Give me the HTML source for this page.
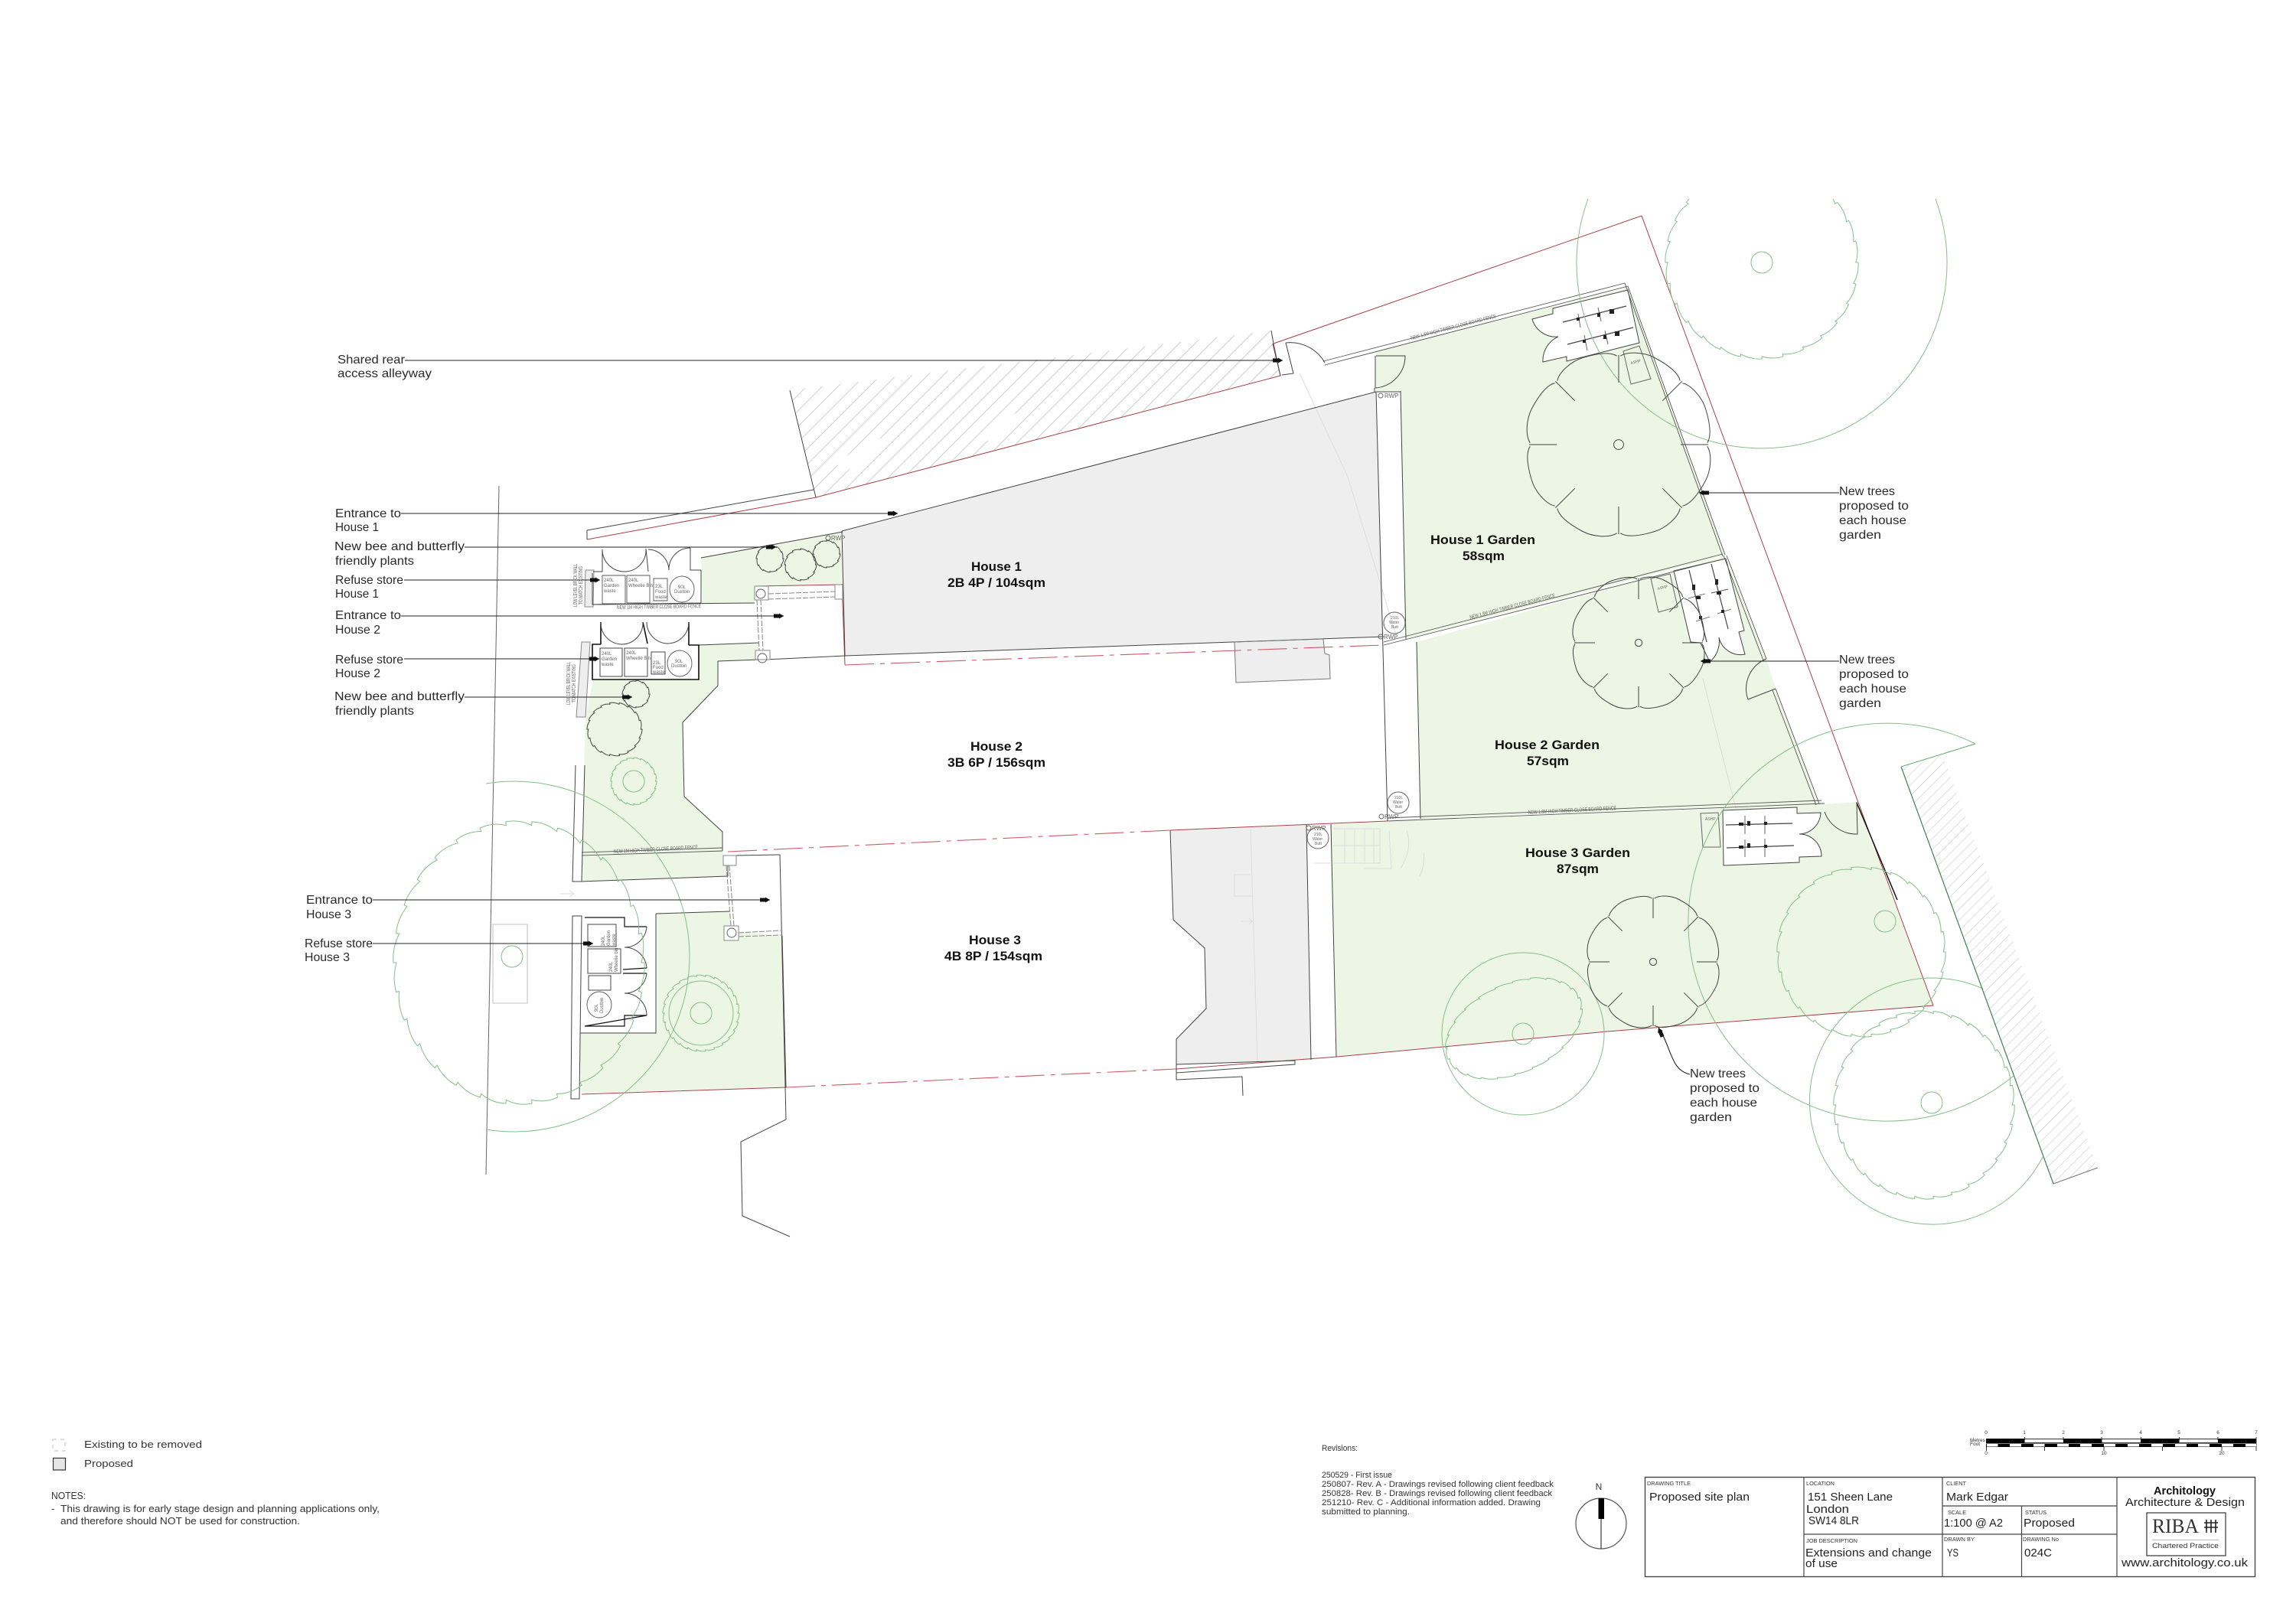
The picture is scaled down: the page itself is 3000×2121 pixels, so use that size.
<!DOCTYPE html>
<html><head><meta charset="utf-8"><title>Proposed site plan</title>
<style>
html,body{margin:0;padding:0;background:#fff}
svg{display:block;font-family:"Liberation Sans",sans-serif}
.k{fill:none;stroke:#444;stroke-width:1}
.kt{fill:none;stroke:#111;stroke-width:1.6}
.f{fill:none;stroke:#555;stroke-width:.9}
.w{fill:#fff;stroke:#444;stroke-width:1}
.gy{fill:none;stroke:#ddd;stroke-width:1}
.r{fill:none;stroke:#a8404a;stroke-width:1}
.rd{fill:none;stroke:#cf5a66;stroke-width:1.1;stroke-dasharray:38 8 6 8}
.g{fill:none;stroke:#84bf88;stroke-width:1}
.ld{stroke:#222;stroke-width:1.1;fill:none;marker-end:url(#a)}
.bk{stroke:#444;stroke-width:1.2;fill:none}
.mk{fill:#222}
.t{font-size:16px;fill:#2a2a2a}
.b{font-size:17px;font-weight:bold;fill:#111}
.s{font-size:7px;fill:#666}
.n{font-size:13px;fill:#333}
.v{font-size:11px;fill:#333}
.tb{font-size:7.5px;fill:#333}
.tv{font-size:15px;fill:#222}
.sc{font-size:6.5px;fill:#333}
</style></head><body>
<svg xmlns="http://www.w3.org/2000/svg" width="3000" height="2121" viewBox="0 0 3000 2121">
<defs>
<marker id="a" markerWidth="14" markerHeight="8" refX="13" refY="4" orient="auto" markerUnits="userSpaceOnUse"><path d="M0 1.5H7V0.5L13 4 7 7.5V6.5H0z" fill="#111"/></marker>
<pattern id="h1" width="14.5" height="14.5" patternUnits="userSpaceOnUse" patternTransform="rotate(-45)"><line x1="0" y1="0" x2="14.5" y2="0" stroke="#bbb" stroke-width="1.4"/></pattern>
<pattern id="h2" width="10" height="10" patternUnits="userSpaceOnUse" patternTransform="rotate(-45)"><line x1="0" y1="0" x2="10" y2="0" stroke="#c8c8c8" stroke-width="1.2"/></pattern>
<clipPath id="c1"><rect x="1900" y="260" width="800" height="400"/></clipPath>
</defs>

<!-- fills -->
<polygon fill="#eeeeee" points="1100,694 1798,512 1808,832 1104,857"/>
<polygon fill="#eeeeee" points="1613,839 1729,835 1731,854 1737,856 1738,887 1615,892"/>
<polygon fill="#eeeeee" points="1529,1085 1707,1078 1713,1385 1537,1391 1537,1358 1576,1318 1574,1239 1533,1202"/>
<polygon fill="#edf6e4" points="1798,460 2127,376 2254,726 1837,835 1830,511 1798,511"/>
<polygon fill="#edf6e4" points="1851,839 2254,727 2308,861 2320,900 2377,1050 1856,1070"/>
<polygon fill="#edf6e4" points="1739,1077 2384,1051 2426,1048 2526,1314 2100,1348 1747,1381"/>
<polygon fill="#edf6e4" points="916,729 1101,695 1101,764 986,766 986,788 918,790"/>
<polygon fill="#edf6e4" points="775,888 913,888 913,843 992,840 992,862 938,864 938,896 892,944 893,1000 894,1041 944,1087 944,1112 951,1145 760,1152 763,1000 765,937"/>
<polygon fill="#edf6e4" points="857,1194 954,1191 954,1216 1022,1223 1027,1421 760,1428 757,1350 857,1350"/>
<polygon fill="url(#h1)" points="1032,510 1661,432 1673,491 1066,650"/>
<path d="M1098 612L1150 574M1290 575L1325 540" stroke="#fff" stroke-width="16" fill="none"/>
<polygon fill="url(#h2)" points="2484,1002 2537,984 2741,1526 2683,1547"/>
<polygon fill="#eee" stroke="#888" stroke-width="1" points="760,839 771,839 765,937 753,937"/>
<polygon fill="#eee" stroke="#888" stroke-width="1" points="765,745 776,745 775,793 764,793"/>

<!-- sheds white -->
<path class="w" d="M2029 403L2127 379 2142 448 2047 472 2047 466 2016 473A34 34 0 0 1 2036 440A32 32 0 0 1 2002 417L2029 410Z"/>
<path class="w" d="M2187 746L2255 730 2279 824 2272 826 2280 855A29 29 0 0 1 2246 833A35 35 0 0 1 2234 865L2222 840 2209 839Z"/>
<path class="w" d="M2251 1059L2348 1055 2348 1063 2379 1062A29 29 0 0 1 2351 1090A29 29 0 0 1 2380 1119L2351 1120 2351 1127 2252 1131Z"/>

<!-- ghost lines -->
<path class="gy" d="M1698 488L1761 623 1824 830M2225 887L2268 1056M1634 1083L1643 1387M1634 1143H1613V1171H1636M1742 1083H1803V1128H1742M1742 1105H1803M1757 1083V1128M1770 1083V1128M1783 1083V1128M1795 1083V1128M1717 1128H1739M1815 1085L1818 1135H1782M1838 1085Q1846 1110 1830 1135M1860 1115Q1862 1130 1855 1145M1622 1204H1636L1632 1200M1636 1204L1632 1208M732 1168H750M744 1164L750 1168 744 1172"/>
<rect x="644" y="1208" width="45" height="103" fill="none" stroke="#ccc" stroke-width="1.2"/>

<!-- site lines -->
<path class="r" d="M767 705L1066 650 1673 491 1664 449 2145 282 2526 1314 2100 1348 1747 1381 1537 1397M1027 1421L760 1430"/>
<path class="rd" d="M1104 869L1808 843M951 1113L1529 1085M1027 1421L1537 1397"/>
<path class="r" d="M1100 763L1104 869M1529 1085L1813 1073M986 766L1101 764"/>
<path d="M2426 1049L2479 1176" fill="none" stroke="#111" stroke-width="1.5"/>
<path class="k" d="M1100 694L1798 512M1101 695L916 729M1100 694L1104 857 1808 832M1000 862L1104 857M938 864L992 862 992 850M1798 512L1813 1073M1830 511L1837 835M1851 839L1856 1070M1798 512H1830M1739 1077L1746 1381M1707 1078L1713 1385"/>
<path class="k" d="M767 693L1063 640M767 693V705M1032 510L1066 650M1661 432L1664 449"/>
<path class="k" d="M1529 1085L1533 1202 1574 1239 1576 1318 1537 1358 1537 1402 1692 1391V1386L1537 1391M1537 1402V1411L1623 1407 1624 1432"/>
<path d="M1613 839L1729 835 1731 854 1737 856 1738 887 1615 892z" fill="none" stroke="#777"/>
<path d="M652 635L635 1535" fill="none" stroke="#666" stroke-width="1"/>
<path class="k" d="M962 1118L1019 1117 1027 1463 968 1492 970 1589 1032 1616"/>
<path class="k" d="M992 840L913 843M938 864V896L892 944 893 1000 894 1041 944 1087V1112M760 1152L951 1145 951 1131"/>
<path class="k" d="M857 1194L954 1191M857 1194V1350H757M1022 1223L1027 1421"/>
<polygon class="w" points="748,1197 760,1197 757,1436 746,1436"/>
<path class="k" d="M752 1000L748 1152 760 1152 764 1000"/>

<!-- fences -->
<path class="f" d="M1731 477L2127 374 2254 725M1729 472L2123 370 2251 727M1808 843L2254 730M1808 839L2251 724M2256 726L2308 861M2252 726L2304 863M2320 900L2377 1050M2316 902L2373 1052M1813 1073L2384 1050M1813 1069L2380 1046M760 1118L944 1112M760 1114L944 1108"/>
<path class="k" d="M1680 448A52 52 0 0 1 1731 474M1680 448L1690 488 1675 490M1663 449L1673 491M1798 465H1836A42 42 0 0 1 1797 507V465M1796 507V512M2308 861A42 42 0 0 0 2284 914L2320 900M2384 1061A44 44 0 0 0 2427 1090L2426 1048"/>
<polygon fill="none" stroke="#666" points="2121,459 2142,452 2157,495 2131,502"/>
<polygon fill="none" stroke="#666" points="2157,756 2182,750 2192,793 2167,800"/>
<polygon fill="none" stroke="#666" points="2222,1063 2245,1062 2248,1107 2225,1107"/>

<!-- bikes -->
<path class="bk" d="M2042 421L2125 400M2048 450L2134 428M2207 745L2230 839M2236 737L2258 822M2255 1078L2342 1076M2256 1108L2344 1105"/>
<path class="f" d="M2062 410L2065 428M2088 402L2092 420M2070 438L2074 458M2097 432L2101 450M2206 782L2228 776M2216 812L2234 806M2236 775L2258 770M2244 802L2262 796M2280 1066V1090M2306 1066V1090M2280 1097V1120M2306 1096V1120"/>
<path class="mk" d="M2060 415h4v4h-4zM2087 409h4v5h-4zM2103 404h6v6h-6zM2068 444h4v4h-4zM2095 438h4v5h-4zM2110 433h6v6h-6zM2211 764h4v7h-4zM2241 757h4v7h-4zM2216 779h6v4h-6zM2243 773h6v4h-6zM2220 805h4v4h-4zM2249 797h4v4h-4zM2272 1075h6v4h-6zM2283 1073h4v6h-4zM2305 1074h4v4h-4zM2272 1105h6v4h-6zM2283 1102h4v6h-4zM2305 1104h4v4h-4z"/>

<!-- front refuse stores -->
<path class="k" d="M774 749V790L916 788V745M787 718V747H775M902 716V745H916"/>
<path class="k" d="M787 718A29 29 0 0 0 816 747A28 28 0 0 0 844 718M847 718A28 28 0 0 1 874 745A28 28 0 0 1 902 716M844 717L847 747M774 790L986 788"/>
<path class="f" d="M787 752H817V789H787zM819 752H849V788H819zM854 756H872V785H854z"/>
<ellipse class="f" cx="891" cy="770" rx="16" ry="17"/>
<path class="kt" d="M785 842H774V888H913V843H900M785 813V842M900 813V843M840 813L846 841"/>
<path class="k" d="M785 813A28 28 0 0 0 813 842A28 28 0 0 0 840 813M845 813A28 28 0 0 0 872 841A28 28 0 0 0 900 813"/>
<path class="k" d="M784 847H813V884H784zM816 847H846V884H816z"/>
<path class="k" d="M851 852H869V881H851z"/>
<ellipse class="f" cx="888" cy="867" rx="16" ry="17"/>
<path class="kt" d="M764 1199H816V1211H845M845 1327H816V1341H764z M845 1265L814 1267M845 1272L814 1272" style="stroke-width:1.2"/>
<path class="k" d="M845 1211A29 29 0 0 1 816 1238A29 29 0 0 1 845 1265M845 1272A29 29 0 0 1 816 1298A29 29 0 0 1 845 1327"/>
<path class="k" d="M768 1208H805V1237H768zM768 1240H811V1272H768zM769 1275H798V1294H769z"/>
<ellipse class="f" cx="783" cy="1313" rx="16" ry="17"/>

<!-- gates -->
<rect class="w" x="986" y="766" width="18" height="18" style="stroke:#888"/><circle class="f" cx="994" cy="776" r="6"/>
<rect class="w" x="987" y="850" width="19" height="12" style="stroke:#888"/><circle class="f" cx="996" cy="860" r="6"/>
<rect class="w" x="1091" y="764" width="10" height="19" style="stroke:#888"/>
<rect class="w" x="945" y="1118" width="17" height="13" style="stroke:#888"/>
<rect class="w" x="946" y="1210" width="19" height="19" style="stroke:#888"/><circle class="f" cx="956" cy="1219" r="6"/>
<path d="M1004 776L1091 773M1004 783L1091 780M989 784L992 850M994 784L997 850M949 1131L955 1210M953 1131L959 1210M965 1219L1020 1216M965 1224L1020 1222" fill="none" stroke="#888" stroke-dasharray="7 2"/>

<!-- water butts -->
<g fill="none" stroke="#666"><circle cx="1822" cy="814" r="14"/><circle cx="1827" cy="1049" r="14"/><circle cx="1722" cy="1095" r="14"/><circle cx="1804" cy="832" r="3"/><circle cx="1805" cy="1067" r="3"/><circle cx="1710" cy="1082" r="3"/><circle cx="1804" cy="517" r="3"/><circle cx="1082" cy="703" r="3"/></g>

<!-- trees -->
<path class="g" d="M2075 260A242 242 0 1 0 2529 260M2581 972A260 260 0 1 0 2631 1406M2591 1292A161 161 0 1 0 2669 1512M635 1024A229 229 0 1 1 635 1476"/>
<circle class="g" cx="2302" cy="343" r="14"/><circle class="g" cx="2463" cy="1204" r="14"/><circle class="g" cx="2524" cy="1441" r="14"/><circle class="g" cx="669" cy="1250" r="14"/>
<circle class="g" cx="1990" cy="1351" r="106"/><circle class="g" cx="1990" cy="1351" r="14"/>
<circle class="g" cx="828" cy="1021" r="14"/><circle class="g" cx="916" cy="1324" r="14"/><circle class="g" cx="916" cy="1324" r="42"/>
<g id="tg" class="g"></g>
<g id="tk" class="k"></g>
<path d="M2484 1002L2683 1547" fill="none" stroke="#3f8050" stroke-width="1.2"/>
<path d="M2484 1002L2581 972" fill="none" stroke="#6aa873" stroke-width="1"/>
<path d="M2683 1547L2741 1526" fill="none" stroke="#777" stroke-width="1"/>

<!-- leaders -->
<path class="ld" d="M529 471H1676"/>
<path class="ld" d="M524 671H1173"/>
<path class="ld" d="M607 715H1014"/>
<path class="ld" d="M528 758H784"/>
<path class="ld" d="M524 805H1024"/>
<path class="ld" d="M528 861H783"/>
<path class="ld" d="M607 911H826"/>
<path class="ld" d="M487 1176H1006"/>
<path class="ld" d="M487 1233H775"/>
<path class="ld" d="M2403 644H2220"/>
<path class="ld" d="M2403 864H2222"/>
<path class="ld" d="M2208 1404C2190 1400 2186 1385 2178 1365S2170 1350 2167 1343"/>

<!-- callout labels -->
<text class="t" x="441" y="475" textLength="88" lengthAdjust="spacingAndGlyphs">Shared rear</text>
<text class="t" x="441" y="493" textLength="123" lengthAdjust="spacingAndGlyphs">access alleyway</text>
<text class="t" x="438" y="676" textLength="86" lengthAdjust="spacingAndGlyphs">Entrance to</text>
<text class="t" x="438" y="694" textLength="57" lengthAdjust="spacingAndGlyphs">House 1</text>
<text class="t" x="437" y="719" textLength="170" lengthAdjust="spacingAndGlyphs">New bee and butterfly</text>
<text class="t" x="438" y="738" textLength="103" lengthAdjust="spacingAndGlyphs">friendly plants</text>
<text class="t" x="438" y="763" textLength="89" lengthAdjust="spacingAndGlyphs">Refuse store</text>
<text class="t" x="438" y="781" textLength="57" lengthAdjust="spacingAndGlyphs">House 1</text>
<text class="t" x="438" y="809" textLength="86" lengthAdjust="spacingAndGlyphs">Entrance to</text>
<text class="t" x="438" y="828" textLength="59" lengthAdjust="spacingAndGlyphs">House 2</text>
<text class="t" x="438" y="867" textLength="89" lengthAdjust="spacingAndGlyphs">Refuse store</text>
<text class="t" x="438" y="885" textLength="59" lengthAdjust="spacingAndGlyphs">House 2</text>
<text class="t" x="437" y="915" textLength="170" lengthAdjust="spacingAndGlyphs">New bee and butterfly</text>
<text class="t" x="438" y="934" textLength="103" lengthAdjust="spacingAndGlyphs">friendly plants</text>
<text class="t" x="400" y="1181" textLength="87" lengthAdjust="spacingAndGlyphs">Entrance to</text>
<text class="t" x="400" y="1200" textLength="59" lengthAdjust="spacingAndGlyphs">House 3</text>
<text class="t" x="398" y="1238" textLength="89" lengthAdjust="spacingAndGlyphs">Refuse store</text>
<text class="t" x="398" y="1256" textLength="59" lengthAdjust="spacingAndGlyphs">House 3</text>
<text class="t" x="2403" y="647" textLength="73" lengthAdjust="spacingAndGlyphs">New trees</text>
<text class="t" x="2403" y="666" textLength="91" lengthAdjust="spacingAndGlyphs">proposed to</text>
<text class="t" x="2403" y="685" textLength="88" lengthAdjust="spacingAndGlyphs">each house</text>
<text class="t" x="2403" y="704" textLength="55" lengthAdjust="spacingAndGlyphs">garden</text>
<text class="t" x="2403" y="867" textLength="73" lengthAdjust="spacingAndGlyphs">New trees</text>
<text class="t" x="2403" y="886" textLength="91" lengthAdjust="spacingAndGlyphs">proposed to</text>
<text class="t" x="2403" y="905" textLength="88" lengthAdjust="spacingAndGlyphs">each house</text>
<text class="t" x="2403" y="924" textLength="55" lengthAdjust="spacingAndGlyphs">garden</text>
<text class="t" x="2208" y="1408" textLength="73" lengthAdjust="spacingAndGlyphs">New trees</text>
<text class="t" x="2208" y="1427" textLength="91" lengthAdjust="spacingAndGlyphs">proposed to</text>
<text class="t" x="2208" y="1446" textLength="88" lengthAdjust="spacingAndGlyphs">each house</text>
<text class="t" x="2208" y="1465" textLength="55" lengthAdjust="spacingAndGlyphs">garden</text>

<text class="b" x="1269" y="746" textLength="66" lengthAdjust="spacingAndGlyphs">House 1</text>
<text class="b" x="1238" y="767" textLength="128" lengthAdjust="spacingAndGlyphs">2B 4P / 104sqm</text>
<text class="b" x="1268" y="981" textLength="68" lengthAdjust="spacingAndGlyphs">House 2</text>
<text class="b" x="1238" y="1002" textLength="128" lengthAdjust="spacingAndGlyphs">3B 6P / 156sqm</text>
<text class="b" x="1266" y="1234" textLength="68" lengthAdjust="spacingAndGlyphs">House 3</text>
<text class="b" x="1234" y="1255" textLength="128" lengthAdjust="spacingAndGlyphs">4B 8P / 154sqm</text>
<text class="b" x="1869" y="711" textLength="137" lengthAdjust="spacingAndGlyphs">House 1 Garden</text>
<text class="b" x="1911" y="732" textLength="55" lengthAdjust="spacingAndGlyphs">58sqm</text>
<text class="b" x="1953" y="979" textLength="137" lengthAdjust="spacingAndGlyphs">House 2 Garden</text>
<text class="b" x="1995" y="1000" textLength="55" lengthAdjust="spacingAndGlyphs">57sqm</text>
<text class="b" x="1993" y="1120" textLength="137" lengthAdjust="spacingAndGlyphs">House 3 Garden</text>
<text class="b" x="2034" y="1141" textLength="55" lengthAdjust="spacingAndGlyphs">87sqm</text>

<!-- small plan labels -->
<text class="s" transform="translate(1844 444) rotate(-14.6)" textLength="115" lengthAdjust="spacingAndGlyphs">NEW 1.8M HIGH TIMBER CLOSE BOARD FENCE</text>
<text class="s" transform="translate(1921 809) rotate(-14.6)" textLength="115" lengthAdjust="spacingAndGlyphs">NEW 1.8M HIGH TIMBER CLOSE BOARD FENCE</text>
<text class="s" transform="translate(1997 1064) rotate(-3)" textLength="115" lengthAdjust="spacingAndGlyphs">NEW 1.8M HIGH TIMBER CLOSE BOARD FENCE</text>
<text class="s" transform="translate(802 1115) rotate(-3)" textLength="110" lengthAdjust="spacingAndGlyphs">NEW 1M HIGH TIMBER CLOSE BOARD FENCE</text>
<text class="s" transform="translate(806 796) rotate(-1)" textLength="110" lengthAdjust="spacingAndGlyphs">NEW 1M HIGH TIMBER CLOSE BOARD FENCE</text>
<text class="s" transform="translate(754 793) rotate(-90)" textLength="56" lengthAdjust="spacingAndGlyphs">LOW LEVEL BRICK WALL</text>
<text class="s" transform="translate(761 790) rotate(-90)" textLength="50" lengthAdjust="spacingAndGlyphs">TO MATCH EXISTING</text>
<text class="s" transform="translate(745 921) rotate(-90)" textLength="56" lengthAdjust="spacingAndGlyphs">LOW LEVEL BRICK WALL</text>
<text class="s" transform="translate(752 918) rotate(-90)" textLength="50" lengthAdjust="spacingAndGlyphs">TO MATCH EXISTING</text>
<text class="s" x="1809" y="520" style="font-size:8px">RWP</text>
<text class="s" x="1086" y="706" style="font-size:8px">RWP</text>
<text class="s" x="1808" y="835" style="font-size:8px">RWP</text>
<text class="s" x="1809" y="1070" style="font-size:8px">RWP</text>
<text class="s" x="1714" y="1085" style="font-size:8px">RWP</text>
<text class="s" x="1817" y="809" style="font-size:5px">210L</text><text class="s" x="1815" y="815" style="font-size:5px">Water</text><text class="s" x="1818" y="821" style="font-size:5px">Butt</text>
<text class="s" x="1822" y="1044" style="font-size:5px">210L</text><text class="s" x="1820" y="1050" style="font-size:5px">Water</text><text class="s" x="1823" y="1056" style="font-size:5px">Butt</text>
<text class="s" x="1717" y="1092" style="font-size:5px">210L</text><text class="s" x="1715" y="1098" style="font-size:5px">Water</text><text class="s" x="1718" y="1104" style="font-size:5px">Butt</text>
<text class="s" transform="translate(2131 476) rotate(-14)" style="font-size:5px">ASHP</text>
<text class="s" transform="translate(2166 771) rotate(-14)" style="font-size:5px">ASHP</text>
<text class="s" x="2228" y="1072" style="font-size:5px">ASHP</text>
<text class="s" x="789" y="760" style="font-size:6px">240L</text><text class="s" x="789" y="767" style="font-size:6px">Garden</text><text class="s" x="789" y="774" style="font-size:6px">waste</text>
<text class="s" x="821" y="760" style="font-size:6px">240L</text><text class="s" x="821" y="767" style="font-size:6px">Wheelie Bin</text>
<text class="s" x="856" y="768" style="font-size:6px">23L</text><text class="s" x="856" y="775" style="font-size:6px">Food</text><text class="s" x="856" y="782" style="font-size:6px">waste</text>
<text class="s" x="886" y="769" style="font-size:6px">90L</text><text class="s" x="881" y="775" style="font-size:6px">Dustbin</text>
<text class="s" x="786" y="856" style="font-size:6px">240L</text><text class="s" x="786" y="863" style="font-size:6px">Garden</text><text class="s" x="786" y="870" style="font-size:6px">waste</text>
<text class="s" x="818" y="855" style="font-size:6px">240L</text><text class="s" x="818" y="862" style="font-size:6px">Wheelie Bin</text>
<text class="s" x="853" y="868" style="font-size:6px">23L</text><text class="s" x="853" y="874" style="font-size:6px">Food</text><text class="s" x="853" y="880" style="font-size:6px">waste</text>
<text class="s" x="882" y="866" style="font-size:6px">90L</text><text class="s" x="877" y="872" style="font-size:6px">Dustbin</text>
<text class="s" transform="translate(790 1236) rotate(-90)" style="font-size:6px">240L</text><text class="s" transform="translate(797 1236) rotate(-90)" style="font-size:6px">Garden</text><text class="s" transform="translate(804 1236) rotate(-90)" style="font-size:6px">waste</text>
<text class="s" transform="translate(800 1270) rotate(-90)" style="font-size:6px">240L</text><text class="s" transform="translate(807 1270) rotate(-90)" style="font-size:6px">Wheelie bin</text>
<text class="s" transform="translate(781 1322) rotate(-90)" style="font-size:6px">90L</text><text class="s" transform="translate(788 1324) rotate(-90)" style="font-size:6px">Dustbin</text>

<!-- legend -->
<rect x="69" y="1881" width="16" height="15" fill="none" stroke="#ccc" stroke-width="1.2" stroke-dasharray="5 5"/>
<rect x="69.5" y="1905.5" width="16" height="15.5" fill="#e6e6e6" stroke="#333" stroke-width="1.2"/>
<text class="n" x="110" y="1892" textLength="154" lengthAdjust="spacingAndGlyphs">Existing to be removed</text>
<text class="n" x="110" y="1917" textLength="64" lengthAdjust="spacingAndGlyphs">Proposed</text>
<text class="n" x="67" y="1959" textLength="45" lengthAdjust="spacingAndGlyphs">NOTES:</text>
<text class="n" x="67" y="1976">-</text>
<text class="n" x="79" y="1976" textLength="417" lengthAdjust="spacingAndGlyphs">This drawing is for early stage design and planning applications only,</text>
<text class="n" x="79" y="1992" textLength="313" lengthAdjust="spacingAndGlyphs">and therefore should NOT be used for construction.</text>

<!-- revisions -->
<text class="v" x="1727" y="1896" textLength="47" lengthAdjust="spacingAndGlyphs">Revisions:</text>
<text class="v" x="1727" y="1931" textLength="92" lengthAdjust="spacingAndGlyphs">250529 -  First issue</text>
<text class="v" x="1727" y="1943" textLength="303" lengthAdjust="spacingAndGlyphs">250807- Rev. A - Drawings revised following client feedback</text>
<text class="v" x="1727" y="1955" textLength="301" lengthAdjust="spacingAndGlyphs">250828- Rev. B - Drawings revised following client feedback</text>
<text class="v" x="1727" y="1967" textLength="286" lengthAdjust="spacingAndGlyphs">251210- Rev. C - Additional information added. Drawing</text>
<text class="v" x="1727" y="1979" textLength="115" lengthAdjust="spacingAndGlyphs">submitted to planning.</text>

<!-- north -->
<text x="2089" y="1947" text-anchor="middle" style="font-size:12px" fill="#333">N</text>
<circle cx="2092" cy="1991" r="33" fill="none" stroke="#555" stroke-width="1.2"/>
<rect x="2088.5" y="1958" width="7.5" height="27" fill="#000"/>
<line x1="2092" y1="1985" x2="2092" y2="2024" stroke="#111" stroke-width="1"/>

<!-- scale bar -->
<g fill="#000">
<rect x="2595" y="1880" width="50.5" height="6"/><rect x="2696" y="1880" width="50.5" height="6"/><rect x="2797" y="1880" width="50.5" height="6"/><rect x="2898" y="1880" width="50" height="6"/>
<rect x="2595" y="1886.5" width="353" height="4.5"/>
</g>
<path d="M2645 1880.5H2696M2645 1885.5H2696M2746 1880.5H2797M2746 1885.5H2797M2847 1880.5H2898M2847 1885.5H2898M2595.5 1891V1896M2671.5 1891V1896M2749 1891V1896M2825.5 1891V1896M2903 1891V1896M2948 1878V1896M2645.5 1878V1882M2696 1878V1882M2746 1878V1882M2797.5 1878V1882M2847.5 1878V1882M2898 1878V1882" stroke="#333" stroke-width="1" fill="none"/>
<g fill="#fff"><rect x="2596" y="1887" width="14.5" height="3.5"/><rect x="2626" y="1887" width="15" height="3.5"/><rect x="2657" y="1887" width="14.5" height="3.5"/><rect x="2688" y="1887" width="15" height="3.5"/><rect x="2718" y="1887" width="15" height="3.5"/><rect x="2749" y="1887" width="15" height="3.5"/><rect x="2780" y="1887" width="15" height="3.5"/><rect x="2811" y="1887" width="15" height="3.5"/><rect x="2842" y="1887" width="15" height="3.5"/><rect x="2872" y="1887" width="15" height="3.5"/><rect x="2903" y="1887" width="15" height="3.5"/><rect x="2934" y="1887" width="14" height="3.5"/></g>
<g class="sc" text-anchor="middle"><text x="2595" y="1874">0</text><text x="2645" y="1874">1</text><text x="2696" y="1874">2</text><text x="2746" y="1874">3</text><text x="2797" y="1874">4</text><text x="2847" y="1874">5</text><text x="2898" y="1874">6</text><text x="2948" y="1874">7</text><text x="2595" y="1901">0</text><text x="2749" y="1901">10</text><text x="2903" y="1901">20</text></g>
<text class="sc" x="2574" y="1884">Metres</text><text class="sc" x="2574" y="1889">Foot</text>

<!-- title block -->
<rect x="2149.5" y="1930.5" width="797" height="130" fill="none" stroke="#444" stroke-width="1.4"/>
<path d="M2357 1931V2060M2538 1931V2060M2766 1931V2060M2357 2005H2766M2538 1968H2766M2641.5 1968V2060" stroke="#444" stroke-width="1.2" fill="none"/>
<text class="tb" x="2152" y="1941" textLength="57" lengthAdjust="spacingAndGlyphs">DRAWING TITLE</text>
<text class="tb" x="2360" y="1941" textLength="37" lengthAdjust="spacingAndGlyphs">LOCATION</text>
<text class="tb" x="2543" y="1941" textLength="26" lengthAdjust="spacingAndGlyphs">CLIENT</text>
<text class="tb" x="2545" y="1979" textLength="24" lengthAdjust="spacingAndGlyphs">SCALE</text>
<text class="tb" x="2646" y="1979" textLength="28" lengthAdjust="spacingAndGlyphs">STATUS</text>
<text class="tb" x="2360" y="2016" textLength="67" lengthAdjust="spacingAndGlyphs">JOB DESCRIPTION</text>
<text class="tb" x="2540" y="2014" textLength="40" lengthAdjust="spacingAndGlyphs">DRAWN BY</text>
<text class="tb" x="2643" y="2014" textLength="47" lengthAdjust="spacingAndGlyphs">DRAWING No</text>
<text class="tv" x="2155" y="1961" textLength="131" lengthAdjust="spacingAndGlyphs">Proposed site plan</text>
<text class="tv" x="2362" y="1961" textLength="111" lengthAdjust="spacingAndGlyphs">151 Sheen Lane</text>
<text class="tv" x="2360" y="1977" textLength="56" lengthAdjust="spacingAndGlyphs">London</text>
<text class="tv" x="2363" y="1992" textLength="66" lengthAdjust="spacingAndGlyphs">SW14 8LR</text>
<text class="tv" x="2543" y="1961" textLength="81" lengthAdjust="spacingAndGlyphs">Mark Edgar</text>
<text class="tv" x="2540" y="1995" textLength="77" lengthAdjust="spacingAndGlyphs">1:100 @ A2</text>
<text class="tv" x="2644" y="1995" textLength="67" lengthAdjust="spacingAndGlyphs">Proposed</text>
<text class="tv" x="2359" y="2034" textLength="165" lengthAdjust="spacingAndGlyphs">Extensions and change</text>
<text class="tv" x="2359" y="2048" textLength="42" lengthAdjust="spacingAndGlyphs">of use</text>
<text class="tv" x="2544" y="2034" textLength="15" lengthAdjust="spacingAndGlyphs">YS</text>
<text class="tv" x="2645" y="2034" textLength="36" lengthAdjust="spacingAndGlyphs">024C</text>
<text x="2814" y="1953" textLength="81" lengthAdjust="spacingAndGlyphs" style="font-size:15px;font-weight:bold" fill="#111">Architology</text>
<text class="tv" x="2777" y="1968" textLength="156" lengthAdjust="spacingAndGlyphs">Architecture &amp; Design</text>
<rect x="2805" y="1977" width="103" height="56" fill="none" stroke="#333" stroke-width="1.2"/>
<text x="2812" y="2003" textLength="61" lengthAdjust="spacingAndGlyphs" style="font-family:'Liberation Serif',serif;font-size:26px" fill="#333">RIBA</text>
<path d="M2880 1990H2898M2880 1996H2898M2883 1986V2003M2889 1986V2003M2895 1986V2003" stroke="#222" stroke-width="1.6" fill="none"/>
<line x1="2812" y1="2012.5" x2="2899" y2="2012.5" stroke="#bbb" stroke-width="1"/>
<text x="2812" y="2023" textLength="87" lengthAdjust="spacingAndGlyphs" style="font-size:9px" fill="#333">Chartered Practice</text>
<text class="tv" x="2772" y="2047" textLength="165" lengthAdjust="spacingAndGlyphs">www.architology.co.uk</text>
</svg>
<script>
(function(){
var NS="http://www.w3.org/2000/svg";
function add(g,d,clip){var p=document.createElementNS(NS,"path");p.setAttribute("d",d);if(clip)p.setAttribute("clip-path",clip);document.getElementById(g).appendChild(p);}
function scal(g,cx,cy,rx,ry,n,rot,clip,dep){
 var c=Math.cos(rot||0),s=Math.sin(rot||0),d="",q=dep||0.975;
 function P(a,k){var x=rx*k*Math.cos(a),y=ry*k*Math.sin(a);return (cx+x*c-y*s).toFixed(1)+" "+(cy+x*s+y*c).toFixed(1);}
 for(var i=0;i<n;i++){var a0=i/n*2*Math.PI,a1=(i+1)/n*2*Math.PI,m=(a0+a1)/2;
  d+=(i?"L":"M")+P(a0,1)+"Q"+P(m,1.015)+" "+P(a1,q);}
 add(g,d+"Z",clip);
}
function flower(g,cx,cy,r,inner){
 var d="";function P(a,k){return (cx+k*Math.cos(a)).toFixed(1)+" "+(cy+k*Math.sin(a)).toFixed(1);}
 for(var i=0;i<8;i++){var a0=i/8*2*Math.PI,a1=(i+1)/8*2*Math.PI,m=(a0+a1)/2;
  d+="M"+P(a0+0.02,r*0.99)+"C"+P(a0+0.1,r*1.05)+" "+P(m-0.12,r*1.07)+" "+P(m,r*1.05)+"S"+P(a1-0.1,r*1.05)+" "+P(a1-0.02,r*0.99);
  d+="M"+P(a0,inner)+"L"+P(a0,r*1.0);}
 add(g,d);
 var c=document.createElementNS(NS,"circle");c.setAttribute("cx",cx);c.setAttribute("cy",cy);c.setAttribute("r",r*0.055);document.getElementById(g).appendChild(c);
}
scal("tg",2302,343,126,126,28,0,"url(#c1)");
scal("tg",2432,1244,110,111,26,0);
scal("tg",2514,1444,118,123,30,0);
scal("tg",678,1258,164,185,30,0);
scal("tg",1978,1344,95,58,24,-0.44);
scal("tg",828,1021,30,31,20,0,null,0.95);
scal("tg",916,1324,50,50,26,0,null,0.96);
scal("tk",803,953,36,35,18,0,null,0.95);
scal("tk",831,907,18,18,12,0,null,0.93);
scal("tk",1006,730,18,18,12,0,null,0.93);
scal("tk",1046,738,21,21,12,0,null,0.93);
scal("tk",1080,724,18,18,12,0,null,0.93);
flower("tk",2115,581,117,81);
flower("tk",2141,840,84,57);
flower("tk",2160,1257,84,57);
})();
</script>
</body></html>
